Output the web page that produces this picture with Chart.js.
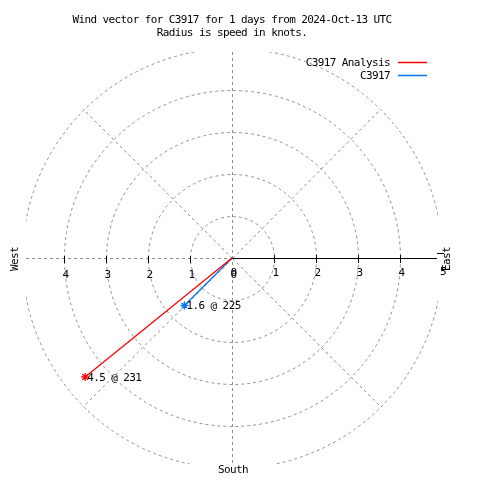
<!DOCTYPE html>
<html><head><meta charset="utf-8">
<script src="https://cdn.jsdelivr.net/npm/chart.js@4/dist/chart.umd.min.js"></script>
<style>html,body{margin:0;padding:0;background:#fff}canvas{display:block}</style>
</head><body>
<canvas id="c" width="480" height="480"></canvas>
<script>
const seriesNames = ['C3917 Analysis', 'C3917'];
const speeds = [4.5, 1.6];          // knots
const directions = [231, 225];      // degrees
const seriesColors = ['#ff0000', '#0a74f0'];
const rings = [1, 2, 3, 4, 5];
const rightTicks = [0, 1, 2, 3, 4];
const leftTicks = [4, 3, 2, 1, 0];
const titleLines = ['Wind vector for C3917 for 1 days from 2024-Oct-13 UTC', 'Radius is speed in knots.'];
const axisMax = 4.905;
const FONT = '11px "DejaVu Sans Mono", "Liberation Mono", monospace';

const rad = d => d * Math.PI / 180;
const datasets = seriesNames.map((name, i) => ({
  label: name,
  data: [{x: 0, y: 0}, {x: speeds[i] * Math.sin(rad(directions[i])), y: speeds[i] * Math.cos(rad(directions[i]))}],
  showLine: true,
  borderColor: seriesColors[i],
  backgroundColor: seriesColors[i],
  borderWidth: 1.3,
  pointStyle: 'star',
  pointRadius: [0, 4],
  pointBorderColor: seriesColors[i],
  pointBorderWidth: 1.3,
  pointHoverRadius: 0
}));

function setFont(ctx) {
  ctx.font = FONT;
  if ('letterSpacing' in ctx) ctx.letterSpacing = '-0.6px';
}

const polarPlugin = {
  id: 'polar',
  beforeDatasetsDraw(chart) {
    const ctx = chart.ctx, xs = chart.scales.x, ys = chart.scales.y, a = chart.chartArea;
    const cx = Math.round(xs.getPixelForValue(0)), cy = Math.round(ys.getPixelForValue(0));
    ctx.save();
    ctx.beginPath(); ctx.rect(a.left, a.top, a.right - a.left, a.bottom - a.top); ctx.clip();
    ctx.strokeStyle = '#909090'; ctx.lineWidth = 1; ctx.setLineDash([3, 3]);
    rings.forEach(r => {
      const rp = xs.getPixelForValue(r) - xs.getPixelForValue(0);
      ctx.beginPath(); ctx.arc(cx + 0.5, cy + 0.5, rp, 0, 2 * Math.PI); ctx.stroke();
    });
    ctx.beginPath(); ctx.moveTo(cx + 0.5, a.top); ctx.lineTo(cx + 0.5, a.bottom); ctx.stroke();
    ctx.beginPath(); ctx.moveTo(a.left, cy + 0.5); ctx.lineTo(cx, cy + 0.5); ctx.stroke();
    const R = rings[rings.length - 1];
    [45, 135, 225, 315].forEach(d => {
      ctx.beginPath(); ctx.moveTo(cx + 0.5, cy + 0.5);
      ctx.lineTo(xs.getPixelForValue(R * Math.sin(rad(d))), ys.getPixelForValue(R * Math.cos(rad(d))));
      ctx.stroke();
    });
    ctx.restore();
    // east axis line and ticks
    ctx.save();
    ctx.strokeStyle = '#000'; ctx.lineWidth = 1;
    ctx.beginPath(); ctx.moveTo(cx, cy + 0.5); ctx.lineTo(a.right - 1, cy + 0.5); ctx.stroke();
    ctx.fillStyle = '#000'; setFont(ctx); ctx.textAlign = 'center'; ctx.textBaseline = 'middle';
    rightTicks.forEach(t => {
      const px = Math.round(xs.getPixelForValue(t));
      if (t > 0) { ctx.beginPath(); ctx.moveTo(px + 0.5, cy - 3); ctx.lineTo(px + 0.5, cy + 5); ctx.stroke(); }
      ctx.fillText(String(t), px + 1.5, cy + 15);
    });
    leftTicks.forEach(t => {
      const px = Math.round(xs.getPixelForValue(-t));
      if (t > 0) { ctx.beginPath(); ctx.moveTo(px + 0.5, cy - 2); ctx.lineTo(px + 0.5, cy + 5); ctx.stroke(); }
      ctx.fillText(String(t), px + 1.5, cy + 17);
    });
    ctx.fillText('5', 443, cy + 14);
    ctx.beginPath(); ctx.moveTo(437, cy - 4.5); ctx.lineTo(444, cy - 4.5); ctx.stroke();
    // direction labels
    ctx.fillText('South', cx + 1, 470);
    ctx.save(); ctx.translate(15, cy + 1); ctx.rotate(-Math.PI / 2); ctx.fillText('West', 0, 0); ctx.restore();
    ctx.save(); ctx.translate(447, cy + 1); ctx.rotate(-Math.PI / 2); ctx.fillText('East', 0, 0); ctx.restore();
    ctx.restore();
  },
  afterDatasetsDraw(chart) {
    const ctx = chart.ctx;
    ctx.save();
    ctx.fillStyle = '#000'; setFont(ctx); ctx.textBaseline = 'middle';
    // point labels
    chart.data.datasets.forEach((ds, i) => {
      const pt = chart.getDatasetMeta(i).data[1];
      ctx.textAlign = 'left';
      ctx.fillText(speeds[i].toFixed(1) + ' @ ' + directions[i], pt.x + 2, pt.y + 1);
    });
    // title
    ctx.textAlign = 'center';
    titleLines.forEach((t, i) => ctx.fillText(t, 232, 20 + i * 13));
    // legend
    chart.data.datasets.forEach((ds, i) => {
      const y = 63 + i * 13;
      ctx.textAlign = 'right';
      ctx.fillText(ds.label, 390, y);
      ctx.strokeStyle = seriesColors[i]; ctx.lineWidth = 1.5;
      ctx.beginPath(); ctx.moveTo(398, y - 0.5); ctx.lineTo(427, y - 0.5); ctx.stroke();
    });
    ctx.restore();
  }
};

new Chart(document.getElementById('c'), {
  type: 'scatter',
  data: { datasets },
  options: {
    responsive: false,
    animation: false,
    devicePixelRatio: 1,
    layout: { padding: { left: 26, top: 52, right: 42, bottom: 16 } },
    scales: {
      x: { type: 'linear', min: -axisMax, max: axisMax, display: false },
      y: { type: 'linear', min: -axisMax, max: axisMax, display: false }
    },
    plugins: { legend: { display: false }, title: { display: false }, tooltip: { enabled: false } },
    elements: { line: { tension: 0 } }
  },
  plugins: [polarPlugin]
});
</script>
</body></html>
